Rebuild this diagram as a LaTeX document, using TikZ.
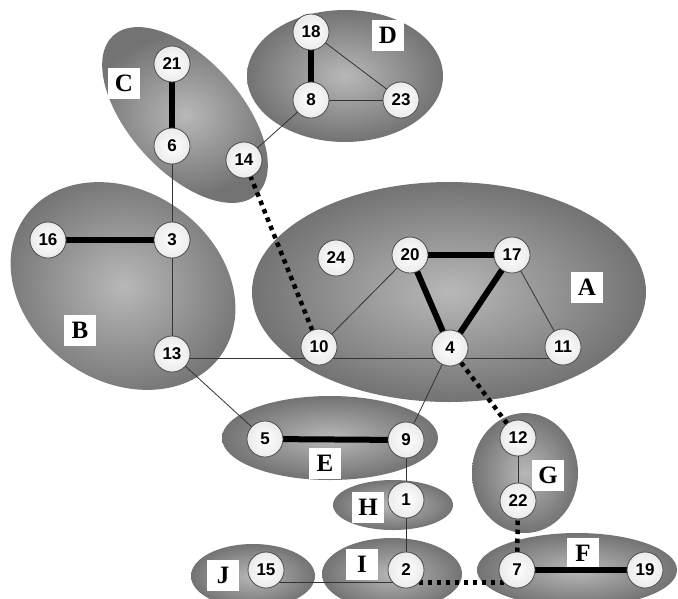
\documentclass[tikz,border=0pt]{standalone}
\usepackage{fontspec}
\setmainfont{Liberation Serif}
\newfontfamily\numfont{Liberation Sans}
\definecolor{grpin}{RGB}{184,184,184}
\definecolor{grpout}{RGB}{115,115,115}
\begin{document}
\begin{tikzpicture}[x=1pt,y=-1pt,
  grp/.style={inner color=grpin, outer color=grpout},
  vtx/.style={circle, draw=black!70, line width=0.8pt, inner color=white, outer color=black!8,
    minimum size=36pt, inner sep=0pt, font=\numfont\bfseries\fontsize{17}{17}\selectfont},
  lbl/.style={fill=white, font=\bfseries\fontsize{25}{25}\selectfont, minimum width=32pt,
    minimum height=31pt, inner sep=1pt},
  thinedge/.style={line width=0.8pt, draw=black!80},
  thickedge/.style={line width=6pt, draw=black},
  dotedge/.style={line width=4.5pt, draw=black, dash pattern=on 4.5pt off 4.5pt}]
\useasboundingbox (0,0) rectangle (678,598);
\clip (0,0) rectangle (678,598);
% groups
\shade[grp] (449,292) ellipse [x radius=197, y radius=110];
\shade[grp, rotate around={-35:(123,286)}] (123,286) ellipse [x radius=120, y radius=95];
\shade[grp, rotate around={-48:(185,115)}] (185,115) ellipse [x radius=107, y radius=56];
\shade[grp] (345,76) ellipse [x radius=98, y radius=66];
\shade[grp] (330,438) ellipse [x radius=108, y radius=42];
\shade[grp] (393,505) ellipse [x radius=60, y radius=25];
\shade[grp] (392,574) ellipse [x radius=70, y radius=36];
\shade[grp] (253,576) ellipse [x radius=62, y radius=32];
\shade[grp] (525,473) ellipse [x radius=53, y radius=60];
\shade[grp] (577,570) ellipse [x radius=100, y radius=37];
% labels
\node[lbl] (LA) at (587,287) {A};
\node[lbl] (LB) at (80,330) {B};
\node[lbl] (LC) at (124,83) {C};
\node[lbl] (LD) at (388,35) {D};
\node[lbl] (LE) at (325,463) {E};
\node[lbl] (LF) at (583,553) {F};
\node[lbl] (LG) at (548,475) {G};
\node[lbl] (LH) at (368,507) {H};
\node[lbl] (LI) at (362,564) {I};
\node[lbl] (LJ) at (223,575) {J};
% vertex coordinates
\coordinate (p21) at (172,64);
\coordinate (p6) at (172,146);
\coordinate (p14) at (244,160);
\coordinate (p18) at (311,32);
\coordinate (p8) at (311,100);
\coordinate (p23) at (401,100);
\coordinate (p16) at (48,240);
\coordinate (p3) at (172,240);
\coordinate (p13) at (172,354);
\coordinate (p24) at (336,258);
\coordinate (p20) at (410,255);
\coordinate (p17) at (512,255);
\coordinate (p10) at (319,347);
\coordinate (p4) at (450,348);
\coordinate (p11) at (563,347);
\coordinate (p5) at (265,439);
\coordinate (p9) at (406,440);
\coordinate (p12) at (518,438);
\coordinate (p22) at (518,501);
\coordinate (p1) at (406,500);
\coordinate (p2) at (406,570);
\coordinate (p15) at (266,570);
\coordinate (p7) at (517,570);
\coordinate (p19) at (645,570);
% edges
\draw[thinedge] ([yshift=-4pt]p13) -- ([yshift=-11pt]p11);
\draw[thickedge] (p21) -- (p6);
\draw[thinedge] (p6) -- (p3);
\draw[thickedge] (p16) -- (p3);
\draw[thinedge] (p3) -- (p13);
\draw[thinedge] (p13) -- (p5);
\draw[thickedge] (p5) -- (p9);
\draw[thinedge] (p9) -- (p4);
\draw[thinedge] (p9) -- (p1);
\draw[thinedge] (p1) -- (p2);
\draw[thinedge] ([shift={(12.7,12.7)}]p15) -- ([shift={(-12.7,12.7)}]p2);
\draw[dotedge] ([shift={(12.7,12.7)}]p2) -- ([shift={(-12.7,12.7)}]p7);
\draw[thickedge] (p7) -- (p19);
\draw[dotedge] (p7) -- (p22);
\draw[thinedge] (p22) -- (p12);
\draw[dotedge] (p12) -- (p4);
\draw[thickedge, line cap=round] (p20) -- (p17);
\draw[thickedge] (p20) -- (p4);
\draw[thickedge] (p17) -- (p4);
\draw[thinedge] (p20) -- (p10);
\draw[thinedge] (p17) -- (p11);
\draw[dotedge] (p10) -- (p14);
\draw[thinedge] (p14) -- (p8);
\draw[thickedge] (p8) -- (p18);
\draw[thinedge] (p8) -- (p23);
\draw[thinedge] (p18) -- (p23);
% vertices
\foreach \n in {21,6,14,18,8,23,16,3,13,24,20,17,10,4,11,5,9,12,22,1,2,15,7,19}
  \node[vtx] (v\n) at (p\n) {\n};
\end{tikzpicture}
\end{document}
